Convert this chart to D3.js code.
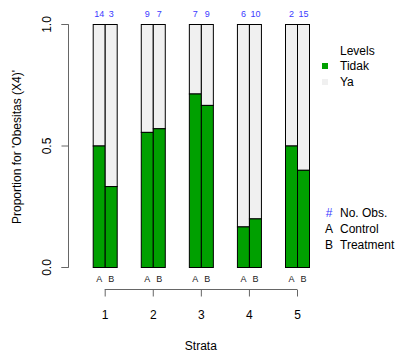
<!DOCTYPE html>
<html>
<head>
<meta charset="utf-8">
<script src="https://cdn.jsdelivr.net/npm/d3@7"></script>
<style>
  body { margin: 0; background: #fff; }
  svg { font-family: "Liberation Sans", Arial, sans-serif; }
</style>
</head>
<body>
<svg id="chart" width="401" height="353"></svg>
<script>
const strata = ["1", "2", "3", "4", "5"]
const groups = ["A", "B"]
const countsA = [14, 9, 7, 6, 2]
const countsB = [3, 7, 9, 10, 15]
const tidakA = [0.5, 0.556, 0.714, 0.167, 0.5]
const tidakB = [0.333, 0.571, 0.667, 0.2, 0.4]
const yTicks = [0, 0.5, 1]
const levels = ["Tidak", "Ya"]
const levelColors = ["#00a000", "#f0f0f0"]

const svg = d3.select('#chart')
const axisColor = '#666'
const font = '"Liberation Sans", Arial, sans-serif'

const y = d3.scaleLinear().domain([0, 1]).range([267, 24])
const x = d3.scaleLinear().domain([1, 5]).range([104.7, 297])
const barW = 12

// one record per bar
let bars = []
strata.forEach((s, i) => {
    bars.push({ s: +s, g: 'A', n: countsA[i], p: tidakA[i] })
    bars.push({ s: +s, g: 'B', n: countsB[i], p: tidakB[i] })
})
const left = d => d.g === 'A' ? x(d.s) - barW : x(d.s)

let g = svg.selectAll('g.bar').data(bars).enter().append('g').classed('bar', true)

// Ya part (top)
g.append('rect')
    .attr('x', d => left(d) + 0.5)
    .attr('y', y(1) + 0.5)
    .attr('width', barW)
    .attr('height', d => y(d.p) - y(1))
    .attr('fill', levelColors[1])
    .attr('stroke', '#000')

// Tidak part (bottom)
g.append('rect')
    .attr('x', d => left(d) + 0.5)
    .attr('y', d => y(d.p) + 0.5)
    .attr('width', barW)
    .attr('height', d => y(0) - y(d.p))
    .attr('fill', levelColors[0])
    .attr('stroke', '#000')

// counts on top
g.append('text')
    .attr('x', d => left(d) + barW / 2 + 0.5)
    .attr('y', 17)
    .attr('text-anchor', 'middle')
    .attr('font-size', 9)
    .attr('fill', '#3b3bff')
    .text(d => d.n)

// group letters under bars
g.append('text')
    .attr('x', d => left(d) + barW / 2 + 0.5)
    .attr('y', 282)
    .attr('text-anchor', 'middle')
    .attr('font-size', 9)
    .attr('fill', '#222')
    .text(d => d.g)

// y axis
let yAxis = d3.axisLeft(y).tickValues(yTicks).tickSize(7).tickFormat(d3.format('.1f'))
let ya = svg.append('g').attr('transform', 'translate(68.5,0)').call(yAxis)
ya.select('.domain').attr('stroke', axisColor).attr('d', `M-7,${y(1) + 0.5}H0V${y(0) + 0.5}H-7`)
ya.selectAll('.tick line').attr('stroke', axisColor)
ya.selectAll('.tick text')
    .attr('font-size', 12)
    .attr('font-family', font)
    .attr('fill', '#000')
    .attr('text-anchor', 'middle')
    .attr('transform', 'rotate(-90)')
    .attr('x', 0)
    .attr('y', -18)
    .attr('dy', null)

// strata axis
let xAxis = d3.axisBottom(x).tickValues(strata.map(Number)).tickFormat(d => String(d))
    .tickSize(7).tickSizeOuter(0).tickPadding(14)
let xa = svg.append('g').attr('transform', 'translate(0,289.5)').call(xAxis)
xa.select('.domain').attr('stroke', axisColor).attr('d', `M${x(1)},0H${x(5)}`)
xa.selectAll('.tick line').attr('stroke', axisColor)
xa.selectAll('.tick text')
    .attr('font-size', 12)
    .attr('font-family', font)
    .attr('fill', '#000')

svg.append('text')
    .attr('x', x(3))
    .attr('y', 350)
    .attr('text-anchor', 'middle')
    .attr('font-size', 12)
    .text('Strata')

svg.append('text')
    .attr('transform', 'translate(21,147) rotate(-90)')
    .attr('text-anchor', 'middle')
    .attr('font-size', 12)
    .text("Proportion for 'Obesitas (X4)'")

// legend for levels
svg.append('text').attr('x', 340).attr('y', 55).attr('font-size', 12).text('Levels')
let lg = svg.selectAll('g.lev').data(levels).enter().append('g').classed('lev', true)
lg.append('rect')
    .attr('x', 322)
    .attr('y', (d, i) => 63 + i * 16)
    .attr('width', 6)
    .attr('height', 6)
    .attr('fill', (d, i) => levelColors[i])
lg.append('text')
    .attr('x', 340)
    .attr('y', (d, i) => 70 + i * 16)
    .attr('font-size', 12)
    .text(d => d)

// legend for symbols
const keySyms = ['#', 'A', 'B']
const keyText = ['No. Obs.', 'Control', 'Treatment']
let kg = svg.selectAll('g.key').data(keySyms).enter().append('g').classed('key', true)
kg.append('text')
    .attr('x', 329)
    .attr('y', (d, i) => 217 + i * 16)
    .attr('text-anchor', 'middle')
    .attr('font-size', 12)
    .attr('fill', (d, i) => i === 0 ? '#3b3bff' : '#000')
    .text(d => d)
kg.append('text')
    .attr('x', 340)
    .attr('y', (d, i) => 217 + i * 16)
    .attr('font-size', 12)
    .text((d, i) => keyText[i])
</script>
</body>
</html>
